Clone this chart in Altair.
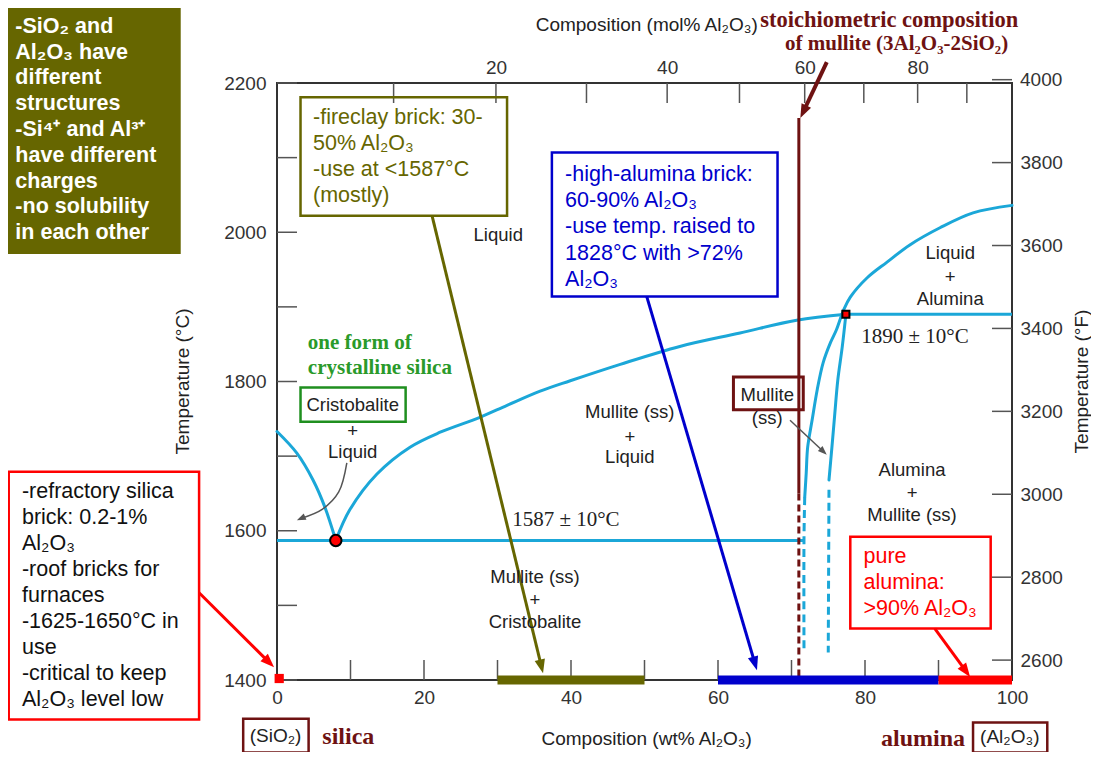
import math
import altair as alt
import pandas as pd

# ---------------- data (wt% Al2O3, temperature in deg C) ----------------
M_AL2O3 = 101.96
M_SIO2 = 60.08

temp_ticks_C = list(range(1400, 2201, 100))
temp_labels_C = list(range(1400, 2201, 200))
wt_ticks = list(range(10, 91, 10))
wt_labels = list(range(0, 101, 20))
mol_ticks = list(range(10, 91, 10))
mol_labels = [20, 40, 60, 80]
f_ticks = list(range(2600, 4001, 200))

cristobalite_liq_wt = [0.0, 2.7, 4.9, 6.5, 8.0]
cristobalite_liq_T = [1733, 1704, 1668, 1632, 1587]

mullite_liq_wt = [8.0, 9.9, 13.6, 18.1, 22.2, 27.6, 31.3, 35.8, 39.9, 46.7, 54.8, 63.0, 70.7, 77.4]
mullite_liq_T = [1587, 1628, 1676, 1712, 1732, 1752, 1768, 1787, 1801, 1823, 1847, 1865, 1882, 1890]

alumina_liq_wt = [100, 94.7, 90.2, 86.1, 83.0, 80.3, 78.0, 77.1, 76.1, 75.3, 74.3, 73.5, 72.8, 72.2, 72.0, 71.8]
alumina_liq_T = [2036, 2026, 2006, 1983, 1960, 1939, 1913, 1896, 1869, 1852, 1825, 1789, 1748, 1712, 1677, 1645]
mullite_left_dash_wt = [71.8, 71.7, 71.7]
mullite_left_dash_T = [1645, 1590, 1437]

mullite_right_wt = [77.4, 76.9, 76.3, 75.9, 75.5, 75.1]
mullite_right_T = [1890, 1846, 1802, 1758, 1712, 1668]
mullite_right_dash_wt = [75.1, 75.0]
mullite_right_dash_T = [1655, 1437]

eutectic_wt, eutectic_T = 8.0, 1587
eutectic_line_wt = [0, 71.7]
peritectic_wt, peritectic_T = 77.4, 1890
peritectic_line_wt = [77.4, 100]

stoich_wt = 71.0
stoich_solid_T = [2153, 1650]
stoich_dash_T = [1650, 1400]

silica_brick_wt = 0.3
fireclay_range = [30, 50]
high_alumina_range = [60, 90]
pure_alumina_range = [90, 100]

# ---------------- scales / helpers ----------------
W, H = 735, 597
XS = alt.Scale(domain=[0, 100], nice=False, zero=False)
YS = alt.Scale(domain=[1400, 2200], nice=False, zero=False)
X = alt.X("wt:Q", scale=XS, axis=None)
Y = alt.Y("T:Q", scale=YS, axis=None)

CYAN = "#1ba7d8"
MAROON = "#6e1212"
OLIVE = "#666600"
BLUE = "#0000cc"
RED = "#ff0000"
GREEN = "#1f8f1f"
SANS = "Liberation Sans"
SERIF = "Liberation Serif"
ARROW_PATH = "M0,0L-0.6,1.6L0.6,1.6Z"


def mol_to_wt(m):
    return 100 * m * M_AL2O3 / (m * M_AL2O3 + (100 - m) * M_SIO2)


def f_to_c(f):
    return (f - 32) * 5 / 9


def df_xy(wt, T, **extra):
    d = {"wt": list(wt), "T": list(T)}
    d.update(extra)
    return pd.DataFrame(d)


def curve(wt, T, color, width, dash=None, cap="round"):
    kw = dict(color=color, strokeWidth=width, interpolate="catmull-rom", strokeCap=cap)
    if dash is not None:
        kw["strokeDash"] = dash
        kw["strokeCap"] = "butt"
    return alt.Chart(df_xy(wt, T, i=list(range(len(wt))))).mark_line(**kw).encode(
        x=X, y=Y, order=alt.Order("i:Q"))


def arrow(wts, Ts, color, width, head_len):
    sx = (wts[-1] - wts[-2]) * W / 100
    sy = -(Ts[-1] - Ts[-2]) * H / 800
    L = math.hypot(sx, sy)
    back = head_len * 0.6
    end_wt = wts[-1] - sx / L * back * 100 / W
    end_T = Ts[-1] + sy / L * back * 800 / H
    line = curve(list(wts[:-1]) + [end_wt], list(Ts[:-1]) + [end_T], color, width, cap="butt")
    ang = math.degrees(math.atan2(sx, -sy)) % 360
    size = (2 * head_len / 1.6) ** 2
    head = alt.Chart(df_xy([wts[-1]], [Ts[-1]])).mark_point(
        shape=ARROW_PATH, angle=ang, size=size, filled=True, color=color,
        opacity=1, strokeWidth=0).encode(x=X, y=Y)
    return [line, head]


def label(x, y, text, size=18.5, color="#222", font=SANS, weight="normal",
          align="center", angle=None, lh=None, baseline="middle"):
    """Multi-line texts: y is the first line's position."""
    kw = dict(align=align, baseline=baseline, font=font, fontSize=size,
              fontWeight=weight, color=color, lineBreak="\n")
    if angle is not None:
        kw["angle"] = angle
    if lh is not None:
        kw["lineHeight"] = lh
    return alt.Chart(pd.DataFrame({"wt": [x], "T": [y], "txt": [text]})).mark_text(**kw).encode(
        x=X, y=Y, text="txt:N")


def box(x1, x2, y1, y2, stroke=None, sw=2, fill=None):
    kw = {}
    if stroke is not None:
        kw.update(stroke=stroke, strokeWidth=sw)
    if fill is not None:
        kw.update(fill=fill, fillOpacity=1)
    else:
        kw.update(fill="white", fillOpacity=0)
    return alt.Chart(pd.DataFrame({"wt": [x1], "wt2": [x2], "T": [y1], "T2": [y2]})).mark_rect(**kw).encode(
        x=X, x2=alt.X2("wt2"), y=Y, y2=alt.Y2("T2"))


def hrule(wt1, wt2, T, color, width, cap="butt"):
    return alt.Chart(pd.DataFrame({"wt": [wt1], "wt2": [wt2], "T": [T]})).mark_rule(
        color=color, strokeWidth=width, strokeCap=cap).encode(x=X, x2=alt.X2("wt2"), y=Y)


def vrule(wt, T1, T2, color, width, dash=None):
    kw = dict(color=color, strokeWidth=width)
    if dash is not None:
        kw["strokeDash"] = dash
    return alt.Chart(pd.DataFrame({"wt": [wt], "T": [T1], "T2": [T2]})).mark_rule(**kw).encode(
        x=X, y=Y, y2=alt.Y2("T2"))


layers = []

# ---------------- axes (labels only; ticks drawn inward below) ----------------
ax_common = dict(ticks=False, domain=False, grid=False, tickSize=0, labelFont=SANS,
                 labelFontSize=19, labelColor="#333", title=None, labelFlush=False,
                 labelOverlap=False, format="d")
layers.append(alt.Chart(pd.DataFrame({"wt": [50], "T": [1800]})).mark_point(opacity=0).encode(
    x=alt.X("wt:Q", scale=XS, axis=alt.Axis(orient="bottom", values=wt_labels, labelPadding=8, **ax_common)),
    y=alt.Y("T:Q", scale=YS, axis=alt.Axis(orient="left", values=temp_labels_C, labelPadding=11, **ax_common))))
mol_expr = (f"format(100*(datum.value/{M_AL2O3})/(datum.value/{M_AL2O3}+(100-datum.value)/{M_SIO2}), '.0f')")
layers.append(alt.Chart(pd.DataFrame({"wt": [50], "T": [1800]})).mark_point(opacity=0).encode(
    x=alt.X("wt:Q", scale=XS, axis=alt.Axis(orient="top", values=[mol_to_wt(m) for m in mol_labels],
                                            labelExpr=mol_expr, labelPadding=6, **ax_common)),
    y=alt.Y("T:Q", scale=YS, axis=alt.Axis(orient="right", values=[f_to_c(f) for f in f_ticks],
                                           labelExpr="format(datum.value*9/5+32, '.0f')",
                                           labelPadding=8, **ax_common))))
# the top °F label sits a hair above the plot, where the axis drops it
layers.append(alt.Chart(pd.DataFrame({"wt": [100 + 8 * 100 / W], "T": [f_to_c(f_ticks[-1])],
                                      "txt": [str(f_ticks[-1])]}))
              .mark_text(font=SANS, fontSize=19, color="#333", align="left", baseline="middle")
              .encode(x=X, y=Y, text="txt:N"))

TICK_PX = 20
tdx = TICK_PX * 100 / W
tdT = TICK_PX * 800 / H
TICK_COLOR = "#555"
layers.append(alt.Chart(pd.DataFrame({"wt": [0] * len(temp_ticks_C), "wt2": [tdx] * len(temp_ticks_C), "T": temp_ticks_C}))
              .mark_rule(color=TICK_COLOR, strokeWidth=1.5).encode(x=X, x2=alt.X2("wt2"), y=Y))
fc = [f_to_c(f) for f in f_ticks]
layers.append(alt.Chart(pd.DataFrame({"wt": [100 - tdx] * len(fc), "wt2": [100] * len(fc), "T": fc}))
              .mark_rule(color=TICK_COLOR, strokeWidth=1.5).encode(x=X, x2=alt.X2("wt2"), y=Y))
layers.append(alt.Chart(pd.DataFrame({"wt": wt_ticks, "T": [1400] * len(wt_ticks), "T2": [1400 + tdT] * len(wt_ticks)}))
              .mark_rule(color=TICK_COLOR, strokeWidth=1.5).encode(x=X, y=Y, y2=alt.Y2("T2")))
mw = [mol_to_wt(m) for m in mol_ticks]
layers.append(alt.Chart(pd.DataFrame({"wt": mw, "T": [2200 - tdT] * len(mw), "T2": [2200] * len(mw)}))
              .mark_rule(color=TICK_COLOR, strokeWidth=1.5).encode(x=X, y=Y, y2=alt.Y2("T2")))

# ---------------- annotation boxes ----------------
layers.append(box(-36.7, -13.1, 2302, 1971, fill=OLIVE))
layers.append(box(3.2, 31.3, 2181, 2022, stroke=OLIVE, sw=2.5))
layers.append(box(37.4, 68.1, 2107, 1914, stroke=BLUE, sw=2.5))
layers.append(box(-36.5, -10.6, 1679, 1347, stroke=RED, sw=2.5))
layers.append(box(78.0, 97.1, 1592, 1469, stroke=RED, sw=2.5))
layers.append(box(62.1, 71.6, 1806, 1762, stroke=MAROON, sw=3))
layers.append(box(3.2, 17.5, 1792, 1746, stroke=GREEN, sw=2.5))
layers.append(box(-4.6, 4.3, 1348, 1303, stroke=MAROON, sw=2.5))
layers.append(box(94.7, 104.8, 1343, 1303, stroke=MAROON, sw=2.5))

# ---------------- phase boundaries ----------------
layers.append(curve(cristobalite_liq_wt, cristobalite_liq_T, CYAN, 3))
layers.append(curve(mullite_liq_wt, mullite_liq_T, CYAN, 3))
layers.append(curve(alumina_liq_wt, alumina_liq_T, CYAN, 3))
layers.append(curve(mullite_left_dash_wt, mullite_left_dash_T, CYAN, 3, dash=[8, 5]))
layers.append(curve(mullite_right_wt, mullite_right_T, CYAN, 3))
layers.append(curve(mullite_right_dash_wt, mullite_right_dash_T, CYAN, 3, dash=[8, 5]))
layers.append(hrule(eutectic_line_wt[0], eutectic_line_wt[1], eutectic_T, CYAN, 3))
layers.append(hrule(peritectic_line_wt[0], peritectic_line_wt[1], peritectic_T, CYAN, 3))

# stoichiometric mullite line
layers.append(vrule(stoich_wt, stoich_solid_T[0], stoich_solid_T[1], MAROON, 3))
layers.append(vrule(stoich_wt, stoich_dash_T[0], stoich_dash_T[1], MAROON, 3, dash=[7, 4]))

# composition bars on the bottom axis
layers.append(hrule(fireclay_range[0], fireclay_range[1], 1400, OLIVE, 9))
layers.append(hrule(high_alumina_range[0], high_alumina_range[1], 1400, BLUE, 9))
layers.append(hrule(pure_alumina_range[0], pure_alumina_range[1], 1400, RED, 9))
layers.append(alt.Chart(df_xy([silica_brick_wt], [1402])).mark_point(
    shape="square", size=85, filled=True, color=RED, opacity=1, strokeWidth=0).encode(x=X, y=Y))

# invariant points
layers.append(alt.Chart(df_xy([eutectic_wt], [eutectic_T])).mark_point(
    shape="circle", size=130, filled=True, fill=RED, stroke="black", strokeWidth=2, opacity=1).encode(x=X, y=Y))
layers.append(alt.Chart(df_xy([peritectic_wt], [peritectic_T])).mark_point(
    shape="square", size=50, filled=True, fill=RED, stroke="black", strokeWidth=2, opacity=1).encode(x=X, y=Y))

# ---------------- arrows ----------------
layers += arrow([21.1, 36.2], [2022, 1409], OLIVE, 3, 14)
layers += arrow([50.3, 65.3], [1914, 1413], BLUE, 3, 14)
layers += arrow([-10.6, -0.4], [1517, 1417], RED, 3, 14)
layers += arrow([89.5, 94.3], [1469, 1404], RED, 3, 14)
layers += arrow([74.8, 71.2], [2228, 2153], MAROON, 4, 14)
layers += arrow([9.5, 8.4, 6.2, 2.7], [1691, 1652, 1629, 1614], "#555", 1.5, 9)
layers += arrow([69.8, 74.8], [1748, 1702], "#555", 1.5, 9)

# ---------------- texts ----------------
olive_lines = ["-SiO\u2082 and", "Al\u2082O\u2083 have", "different", "structures",
               "-Si\u2074\u207a and Al\u00b3\u207a", "have different", "charges",
               "-no solubility", "in each other"]
fireclay_lines = ["-fireclay brick: 30-", "50% Al\u2082O\u2083", "-use at <1587\u00b0C", "(mostly)"]
highal_lines = ["-high-alumina brick:", "60-90% Al\u2082O\u2083", "-use temp. raised to",
                "1828\u00b0C with >72%", "Al\u2082O\u2083"]
silica_lines = ["-refractory silica", "brick: 0.2-1%", "Al\u2082O\u2083", "-roof bricks for",
                "furnaces", "-1625-1650\u00b0C in", "use", "-critical to keep", "Al\u2082O\u2083 level low"]
pure_lines = ["pure", "alumina:", ">90% Al\u2082O\u2083"]

BOX_FS = 21.5
layers.append(label(-35.6, 2275.4, "\n".join(olive_lines), size=BOX_FS, color="white", weight="bold",
                    align="left", lh=25.8))
layers.append(label(4.9, 2152.7, "\n".join(fireclay_lines), size=BOX_FS, color=OLIVE, align="left", lh=26))
layers.append(label(39.2, 2076.7, "\n".join(highal_lines), size=BOX_FS, color=BLUE, align="left", lh=26.2))
layers.append(label(-34.7, 1651.9, "\n".join(silica_lines), size=BOX_FS, color="#111", align="left", lh=26))
layers.append(label(79.8, 1565.2, "\n".join(pure_lines), size=BOX_FS, color=RED, align="left", lh=26))

# region labels
region_labels = [
    (30.1, 1996, "Liquid"),
    (10.3, 1768.5, "Cristobalite"), (10.3, 1733, "+"), (10.3, 1706, "Liquid"),
    (48.0, 1759.5, "Mullite (ss)"), (48.0, 1726, "+"), (48.0, 1699, "Liquid"),
    (35.1, 1538, "Mullite (ss)"), (35.1, 1507, "+"), (35.1, 1478, "Cristobalite"),
    (91.6, 1972, "Liquid"), (91.6, 1940, "+"), (91.6, 1910, "Alumina"),
    (86.4, 1681, "Alumina"), (86.4, 1650, "+"), (86.4, 1621, "Mullite (ss)"),
    (66.7, 1782, "Mullite"), (66.7, 1751, "(ss)"),
]
rl = pd.DataFrame(region_labels, columns=["wt", "T", "txt"])
layers.append(alt.Chart(rl).mark_text(font=SANS, fontSize=18.5, color="#222", baseline="middle",
                                      align="center").encode(x=X, y=Y, text="txt:N"))

layers.append(label(39.3, 1614, "1587 \u00b1 10\u00b0C", size=21, font=SERIF))
layers.append(label(86.8, 1860, "1890 \u00b1 10\u00b0C", size=21, font=SERIF))

layers.append(label(4.2, 1851.6, "one form of\ncrystalline silica", size=21, font=SERIF, weight="bold",
                    color="#2a9a2a", align="left", lh=25))

layers.append(label(83.3, 2284, "stoichiometric composition", size=22.5, font=SERIF, weight="bold", color=MAROON))
layers.append(label(84.3, 2252, "of mullite (3Al\u2082O\u2083-2SiO\u2082)", size=21, font=SERIF, weight="bold",
                    color=MAROON))
layers.append(label(9.7, 1323, "silica", size=24, font=SERIF, weight="bold", color=MAROON))
layers.append(label(87.9, 1321, "alumina", size=24, font=SERIF, weight="bold", color=MAROON))
layers.append(label(-0.2, 1325, "(SiO\u2082)", size=19))
layers.append(label(99.7, 1323, "(Al\u2082O\u2083)", size=19))

# axis titles
layers.append(label(50.3, 2277.7, "Composition (mol% Al\u2082O\u2083)", size=19))
layers.append(label(50.3, 1321, "Composition (wt% Al\u2082O\u2083)", size=19))
layers.append(label(-12.8, 1800, "Temperature (\u00b0C)", size=19, angle=270))
layers.append(label(109.5, 1800, "Temperature (\u00b0F)", size=19, angle=270))

chart = (alt.layer(*layers)
         .properties(width=W, height=H,
                     padding={"left": 269, "top": 75, "right": 79, "bottom": 72},
                     autosize=alt.AutoSizeParams(type="none"),
                     background="white")
         .resolve_axis(x="independent", y="independent")
         .configure_view(stroke="#333", strokeWidth=2))

chart.save("out.html", embed_options={"renderer": "svg", "actions": False})
